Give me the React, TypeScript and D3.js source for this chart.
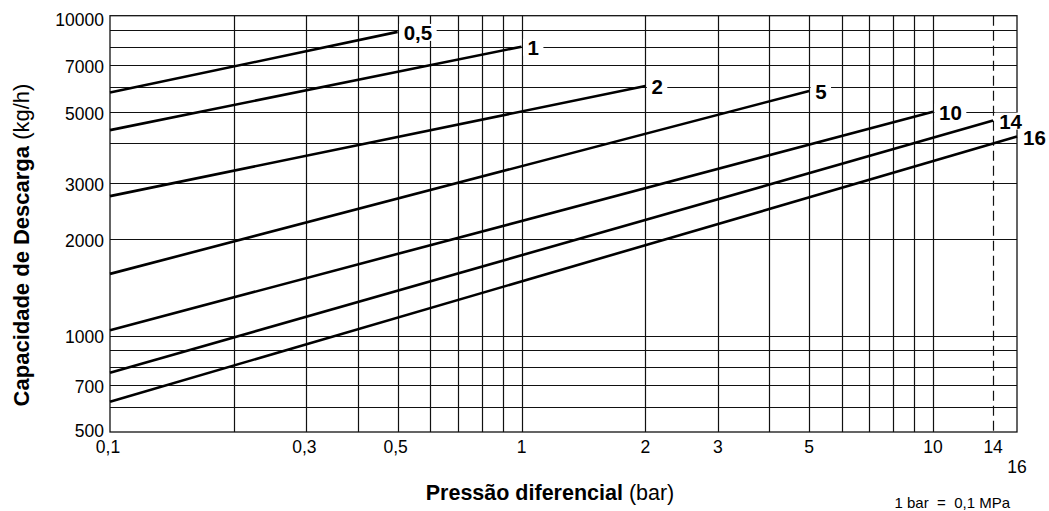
import React, { useEffect, useRef } from 'react';
import * as d3 from 'd3';

// Curves: differential pressure rating of each curve, capacity at 0.1 bar and at curve end
const curveLabels = ['0,5', '1', '2', '5', '10', '14', '16'];
const startPressure = [0.1, 0.1, 0.1, 0.1, 0.1, 0.1, 0.1];
const startCapacity = [5750, 4390, 2730, 1560, 1040, 766, 622];
const endPressure = [0.5, 1, 2, 5, 10, 14, 16];
const endCapacity = [8900, 8000, 6030, 5820, 5010, 4700, 4190];

const xTickValues = [0.1, 0.3, 0.5, 1, 2, 3, 5, 10, 14];
const xTickLabels = ['0,1', '0,3', '0,5', '1', '2', '3', '5', '10', '14'];
const xEndLabel = '16';
const yTickValues = [500, 700, 1000, 2000, 3000, 5000, 7000, 10000];
const yTickLabels = ['500', '700', '1000', '2000', '3000', '5000', '7000', '10000'];

const FONT = '"Liberation Sans", Arial, Helvetica, sans-serif';

export default function App() {
  const ref = useRef<SVGSVGElement>(null);

  useEffect(() => {
    const svg = d3.select(ref.current);
    svg.selectAll('*').remove();

    const x = d3.scaleLog().domain([0.1, 16]).range([110, 1017]);
    const y = d3.scaleLog().domain([500, 10000]).range([432, 15.7]);
    const [x0, x1] = x.range();
    const [yb, yt] = y.range();

    const g = svg.append('g');

    // grid
    const xg = x.ticks().filter((v) => v > 0.1 * 1.0001 && v < 16);
    g.selectAll('line.xg')
      .data(xg)
      .enter()
      .append('line')
      .attr('x1', (d) => Math.round(x(d)) + 0.5)
      .attr('x2', (d) => Math.round(x(d)) + 0.5)
      .attr('y1', yt)
      .attr('y2', yb)
      .attr('stroke', '#111')
      .attr('stroke-width', 1.2);
    const yg = y.ticks().filter((v) => v > 500 && v < 10000);
    g.selectAll('line.yg')
      .data(yg)
      .enter()
      .append('line')
      .attr('x1', x0)
      .attr('x2', x1)
      .attr('y1', (d) => Math.round(y(d)) + 0.5)
      .attr('y2', (d) => Math.round(y(d)) + 0.5)
      .attr('stroke', '#111')
      .attr('stroke-width', 1.2);
    // dashed 14
    g.append('line')
      .attr('x1', Math.round(x(14)) + 0.5)
      .attr('x2', Math.round(x(14)) + 0.5)
      .attr('y1', yt)
      .attr('y2', yb)
      .attr('stroke', '#111')
      .attr('stroke-width', 1.2)
      .attr('stroke-dasharray', '10,5');
    // frame
    g.append('rect')
      .attr('x', x0)
      .attr('y', yt)
      .attr('width', x1 - x0)
      .attr('height', yb - yt)
      .attr('fill', 'none')
      .attr('stroke', '#111')
      .attr('stroke-width', 1.3);

    // curves
    const line = d3
      .line<[number, number]>()
      .x((d) => x(d[0]))
      .y((d) => y(d[1]));
    curveLabels.forEach((lab, i) => {
      const pts: [number, number][] = [
        [startPressure[i], startCapacity[i]],
        [endPressure[i], endCapacity[i]],
      ];
      g.append('path')
        .attr('d', line(pts))
        .attr('fill', 'none')
        .attr('stroke', '#000')
        .attr('stroke-width', 2.6);
    });

    // curve labels with white backing
    curveLabels.forEach((lab, i) => {
      const ex = x(endPressure[i]);
      const ey = y(endCapacity[i]);
      const bg = g.append('rect').attr('fill', '#fff');
      const t = g
        .append('text')
        .attr('x', ex + 6)
        .attr('y', ey + 8.5)
        .attr('font-family', FONT)
        .attr('font-weight', 'bold')
        .attr('font-size', 20.5)
        .attr('fill', '#000')
        .text(lab);
      const w = (t.node() as SVGTextElement).getComputedTextLength();
      bg.attr('x', ex + 1.5)
        .attr('y', ey - 8)
        .attr('width', w + 9)
        .attr('height', 17);
    });

    // y tick labels
    yTickValues.forEach((v, i) => {
      let dy = 7.5;
      if (i === yTickValues.length - 1) dy = 10.5;
      if (i === 0) dy = 4.5;
      g.append('text')
        .attr('x', 104)
        .attr('y', y(v) + dy)
        .attr('text-anchor', 'end')
        .attr('font-family', FONT)
        .attr('font-size', 17.5)
        .attr('fill', '#000')
        .text(yTickLabels[i]);
    });

    // x tick labels
    xTickValues.forEach((v, i) => {
      g.append('text')
        .attr('x', x(v) - (xTickLabels[i].includes(',') ? 2 : 0))
        .attr('y', 453)
        .attr('text-anchor', 'middle')
        .attr('font-family', FONT)
        .attr('font-size', 17.5)
        .attr('fill', '#000')
        .text(xTickLabels[i]);
    });
    g.append('text')
      .attr('x', x(16))
      .attr('y', 473)
      .attr('text-anchor', 'middle')
      .attr('font-family', FONT)
      .attr('font-size', 17.5)
      .attr('fill', '#000')
      .text(xEndLabel);

    // axis titles
    const xt = g
      .append('text')
      .attr('x', 550)
      .attr('y', 500)
      .attr('text-anchor', 'middle')
      .attr('font-family', FONT)
      .attr('font-size', 21.5)
      .attr('fill', '#000');
    xt.append('tspan').attr('font-weight', 'bold').text('Pressão diferencial');
    xt.append('tspan').text(' (bar)');

    const ytl = g
      .append('text')
      .attr('transform', 'translate(29,245) rotate(-90)')
      .attr('text-anchor', 'middle')
      .attr('font-family', FONT)
      .attr('font-size', 22)
      .attr('fill', '#000');
    ytl.append('tspan').attr('font-weight', 'bold').text('Capacidade de Descarga');
    ytl.append('tspan').text(' (kg/h)');

    g.append('text')
      .attr('x', 1010)
      .attr('y', 508)
      .attr('text-anchor', 'end')
      .attr('font-family', FONT)
      .attr('font-size', 15)
      .attr('fill', '#000')
      .style('white-space', 'pre')
      .text('1 bar  =  0,1 MPa');
  }, []);

  return (
    <svg
      ref={ref}
      width={1049}
      height={511}
      style={{ position: 'absolute', left: 0, top: 0, background: '#fff' }}
    />
  );
}
